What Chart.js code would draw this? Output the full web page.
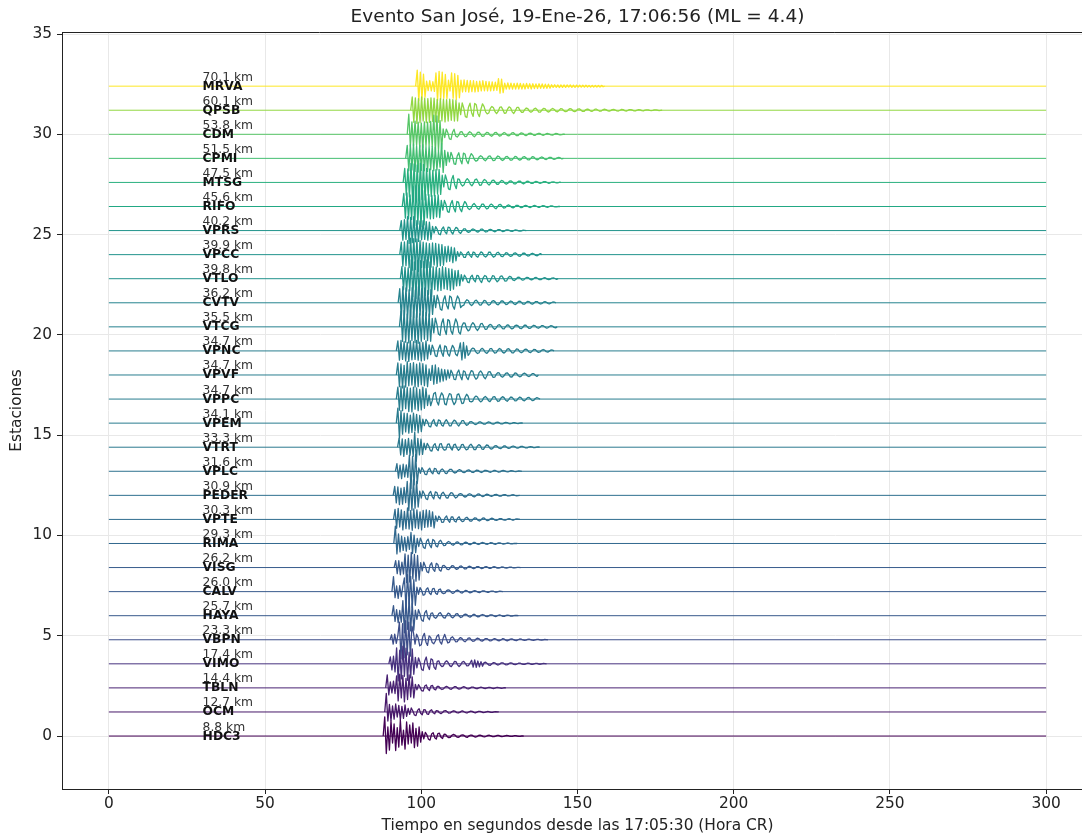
<!DOCTYPE html>
<html>
<head>
<meta charset="utf-8">
<title>Evento San José</title>
<script src="https://cdn.jsdelivr.net/npm/chart.js@4.4.1/dist/chart.umd.min.js"></script>
<style>
  html, body { margin: 0; padding: 0; background: #fff; overflow: hidden; }
  #wrap { width: 1110px; height: 835px; }
</style>
</head>
<body>
<div id="wrap"><canvas id="seis" width="1110" height="835"></canvas></div>
<script>
// ---- chart text ----
const titleText = 'Evento San José, 19-Ene-26, 17:06:56 (ML = 4.4)';
const xLabel = 'Tiempo en segundos desde las 17:05:30 (Hora CR)';
const yLabel = 'Estaciones';
const xTicks = [0, 50, 100, 150, 200, 250, 300];
const yTicks = [0, 5, 10, 15, 20, 25, 30, 35];

// ---- stations, bottom to top ----
const stations = ['HDC3', 'OCM', 'TBLN', 'VIMO', 'VBPN', 'HAYA', 'CALV', 'VISG', 'RIMA', 'VPTE',
  'PEDER', 'VPLC', 'VTRT', 'VPEM', 'VPPC', 'VPVF', 'VPNC', 'VTCG', 'CVTV', 'VTLO',
  'VPCC', 'VPRS', 'RIFO', 'MTSG', 'CPMI', 'CDM', 'QPSB', 'MRVA'];
const distances = [8.8, 12.7, 14.4, 17.4, 23.3, 25.7, 26.0, 26.2, 29.3, 30.3,
  30.9, 31.6, 33.3, 34.1, 34.7, 34.7, 34.7, 35.5, 36.2, 39.8,
  39.9, 40.2, 45.6, 47.5, 51.5, 53.8, 60.1, 70.1];
const offsets = [0, 1.2, 2.4, 3.6, 4.8, 6.0, 7.2, 8.4, 9.6, 10.8,
  12.0, 13.2, 14.4, 15.6, 16.8, 18.0, 19.2, 20.4, 21.6, 22.8,
  24.0, 25.2, 26.4, 27.6, 28.8, 30.0, 31.2, 32.4];
// first arrival (s)
const arrivals = [87.8, 88.3, 88.6, 89.6, 90.0, 90.6, 90.6, 91.3, 91.2, 91.1,
  91.0, 91.7, 92.4, 92.0, 92.0, 92.0, 92.0, 93.0, 92.6, 93.3,
  93.1, 93.1, 93.9, 94.2, 95.0, 95.5, 96.6, 98.2];

const sampleStep = 0.5;   // s between samples after the arrival
const ampUnit = 0.01;     // samples are in hundredths of a y unit
const traceStart = 0;
const traceEnd = 300;
const labelTime = 30;

// ---- waveform samples (read from the record section) ----
const waveHDC3 = [96,-87,45,-70,75,-35,60,-72,42,-55,80,-45,30,-65,70,-40,55,-35,65,-58,38,-50,45,-30,
  22,-14,18,6,-16,-20,10,17,-8,-15,12,14,-6,-12,9,
  8,-3,-8,-6,4,8,5,-4,-7,-3,5,6,2,-5,-6,1,5,4,-2,-5,-3,3,5,2,-3,-4,-1,3,4,1,-3,-3,0,3,3,-1,-3,-2,1,3,2,-1,-2,-1,2,2,0,-2,-1,1];
const waveOCM = [93,-45,38,-42,30,-36,40,-25,33,-38,28,-32,35,-22,
  18,-12,20,5,-15,-18,8,16,-6,-14,12,10,-9,-12,6,11,-4,-9,
  7,6,-4,-8,-3,6,7,1,-6,-5,2,6,4,-3,-5,-2,4,5,0,-4,-4,1,4,3,-2,-4,-1,3,3,0,-3,-2,1,3,1,-2,-2,0,2,1];
const waveTBLN = [65,-35,30,-25,34,-28,60,-65,68,-50,62,-70,48,-58,65,-45,55,-50,
  18,-10,16,4,-14,-16,9,15,-5,-13,10,12,-6,-10,
  8,7,-3,-8,-5,4,8,3,-5,-7,-1,6,6,-2,-6,-4,3,6,3,-3,-5,-1,4,4,0,-4,-3,2,4,2,-2,-3,0,3,2,-1,-3,-1,2,2,0,-2,-1,1];
const waveVIMO = [35,-30,38,-40,80,-85,68,-75,88,-62,78,-82,58,-70,75,-52,
  32,-20,30,8,-28,-33,14,34,-10,-28,25,20,-18,-27,
  12,15,-6,-14,-10,8,15,7,-9,-14,-3,12,11,-5,-13,-6,9,12,2,-10,-9,4,
  18,-16,20,-17,14,-15,11,-12,
  6,8,2,-6,-7,0,6,5,-3,-6,-2,5,5,-1,-5,-4,2,5,3,-3,-4,-1,3,4,0,-3,-3,1,3,2,-2,-3,0,2,2,-1,-2,0,2,1];
const waveVBPN = [25,-22,28,-18,22,88,-95,80,-90,95,-75,88,-82,68,
  35,-22,28,10,-30,-25,16,32,-12,-28,
  19,12,-14,-20,-6,18,25,-10,-22,8,27,4,-16,-12,10,15,
  4,-10,-9,3,11,7,-5,-10,-3,8,9,-1,-8,-6,3,8,5,-4,-7,-2,6,6,0,-6,-4,3,6,2,-4,-5,
  -1,5,4,-2,-5,-2,3,4,1,-3,-4,0,4,3,-1,-3,-2,2,3,1,-2,-3,0,2,2,-1,-2,0,2,1];
const waveHAYA = [50,-28,30,-35,26,-32,75,-85,80,-68,85,-76,62,-72,
  28,-18,30,8,-22,-28,14,26,-10,-20,
  12,14,-8,-13,-4,11,15,3,-10,-12,2,13,9,-6,-11,-3,9,10,-2,-9,
  -6,4,8,5,-4,-7,-2,6,6,-1,-6,-4,3,6,3,-3,-5,-1,4,4,0,-4,-3,2,4,1,-3,-3,1,3,2,-2,-2,0,2,1];
const waveCALV = [75,-30,28,-34,30,-25,29,68,-82,85,-62,76,-80,60,-68,
  22,-13,20,6,-18,-15,12,19,-7,-15,14,16,-8,-14,10,13,-5,
  -10,-7,5,9,6,-4,-9,-4,5,8,3,-5,-7,-1,6,5,-2,-6,-4,3,5,2,-3,-5,-1,4,4,0,-3,-3,1,3,2,-2,-2,0,2,1];
const waveVISG = [35,-30,34,-36,27,-32,68,-75,62,-72,76,-56,65,-68,60,-62,
  25,-16,27,7,-21,-26,12,24,-9,-19,21,15,-12,-18,
  8,11,3,-9,-10,-1,9,8,-3,-9,-5,6,8,2,-6,-7,1,7,5,-3,-6,-2,5,5,-1,-5,-3,3,5,1,
  -4,-4,2,4,2,-3,-3,0,3,2,-2,-3,0,2,2,-1,-2,0,1,1];
const waveRIMA = [87,-52,48,-42,36,-34,30,-38,34,-29,55,-50,42,-46,
  25,-15,27,8,-20,-25,12,22,-8,-21,20,14,-12,-17,10,16,
  2,-11,-9,4,10,6,-5,-9,-3,7,8,0,-7,-6,3,7,4,-4,-6,-1,5,5,-1,-5,-3,3,5,2,
  -3,-4,0,4,3,-2,-4,-1,3,3,0,-3,-2,1,3,1,-2,-2,0,1];
const waveVPTE = [50,-44,55,-38,48,-52,40,-46,58,-48,44,-54,52,-42,48,-46,38,-52,45,-40,48,-38,44,-35,38,-42,
  18,-10,16,6,-15,-14,9,17,-5,-14,13,12,-8,-13,6,13,-3,-11,-8,7,11,2,
  -8,-9,1,8,6,-4,-8,-3,6,7,0,-6,-5,3,6,3,-4,-5,-1,4,4,-1,-4,-3,2,4,1,-3,-3,1,2,1];
const wavePEDER = [45,-38,42,-46,36,-44,40,-36,70,-76,62,-74,78,-64,70,-58,
  21,-14,22,7,-17,-21,10,20,-6,-18,17,14,-10,-17,8,16,4,-12,-14,3,13,11,-4,-13,
  -8,5,9,6,-4,-9,-5,5,8,4,-5,-8,-2,6,7,0,-6,-5,2,6,4,-3,-5,-2,4,5,1,-4,-4,1,4,3,-2,-3,-1,2,3,0,-2,-1];
const waveVPLC = [38,-34,30,-37,35,-28,32,-30,80,-86,74,-68,84,-62,
  17,-10,18,5,-15,-17,7,15,-5,-13,14,12,-8,-13,5,12,4,-10,-11,3,10,9,
  -3,-9,-6,4,8,5,-4,-7,-3,5,7,2,-5,-6,0,6,5,-2,-6,-3,4,5,2,-3,-5,-1,4,4,0,-4,-3,2,4,2,-2,-3,0,3,2,-1,-2,0,2,1];
const waveVTRT = [45,-38,42,-46,38,-36,44,-40,36,-45,75,-70,44,-38,40,-36,
  20,-12,19,6,-17,-19,9,18,-8,-17,15,18,-6,-15,-12,14,17,-4,-14,12,15,-5,-16,-8,13,14,-3,-13,-10,9,15,4,-12,-12,5,13,8,-9,-11,2,11,9,-4,-10,
  -6,5,8,3,-5,-7,-1,6,6,-1,-6,-4,3,6,3,-3,-5,-1,4,4,0,-3,-3,1,3,2,-2,-2,0,1];
const waveVPEM = [75,-75,62,-55,50,-44,48,-50,40,-46,50,-38,44,-48,38,-42,
  20,-12,19,8,-16,-19,7,18,-8,-15,16,13,-9,-15,6,17,5,-13,-14,4,15,10,-6,-14,-3,12,13,-2,
  -11,-7,6,8,3,-5,-7,-2,6,6,0,-5,-5,2,6,4,-3,-5,-2,4,5,1,-4,-4,1,4,3,-2,-3,-1,3,2,-1,-2,0,1];
const waveVPPC = [60,-55,64,-58,66,-48,58,-62,54,-64,60,-50,56,-58,48,-54,60,-46,52,
  -32,20,-33,-8,28,33,-12,-30,10,31,18,-24,-29,6,27,24,-10,-28,-15,22,26,3,-23,-20,8,24,14,-12,
  -14,-10,8,15,10,-6,-14,-8,7,13,6,-8,-13,-2,11,12,-1,-12,-9,5,12,7,-6,-11,-3,9,10,1,-9,-8,3,10,6,-5,-9,-2,7,8,0,-8,-6,3,7,4];
const waveVPVF = [60,-58,55,-64,48,-60,66,-54,58,-50,62,-60,54,-58,60,-48,56,-53,50,-58,
  30,-27,48,-46,50,-42,36,-34,29,-30,27,-24,
  25,-15,24,8,-22,-23,11,25,-6,-24,21,16,-12,-23,4,22,18,-8,-21,-14,12,20,9,-10,-19,-4,16,17,
  2,-12,-11,4,12,9,-6,-11,-4,8,11,3,-9,-10,0,10,8,-4,-9,-6,5,9,5,-5,-8,-2,7,7,-1,-7];
const waveVPNC = [50,-46,52,-42,46,-50,42,-52,50,-44,46,-42,52,-46,44,-50,42,-46,50,-40,
  30,-18,29,9,-25,-28,10,30,-8,-27,25,20,-15,-26,6,28,14,-17,-24,3,40,-45,42,-36,25,-22,
  -12,8,14,10,-6,-13,-9,7,13,6,-8,-12,-3,11,12,-1,-11,-9,4,12,8,-6,-11,-4,9,11,2,-9,-10,0,10,8,-4,-9,-5,6,9,4,-6,-8,-1,8,7,-2,-7,-5,3,7,4,-4,-6,-1,5,4];
const waveVTCG = [78,-72,82,-76,65,-80,85,-68,76,-78,72,-82,66,-72,78,-62,72,-68,65,-72,
  42,-30,44,12,-36,-42,18,40,-14,-38,36,30,-20,-37,8,40,22,-26,-36,4,
  20,18,-8,-20,-14,10,21,12,-9,-18,-6,15,17,2,
  -13,-11,5,12,9,-6,-12,-5,8,11,3,-9,-10,1,10,8,-4,-10,-6,6,9,5,-6,-9,-2,8,8,-1,-8,-6,3,8,5,-4,-7,-2,6,6,0,-6,-5,2,6,4,-3,-5];
const waveCVTV = [70,-76,80,-64,74,-78,66,-70,76,-74,64,-72,80,-62,70,-66,74,-64,62,-70,66,-58,
  36,-24,38,10,-32,-37,15,35,-12,-31,34,28,-16,-32,8,34,20,-24,
  -15,-12,6,15,10,-7,-14,-6,9,13,4,-10,-12,0,12,10,-5,-12,-7,7,11,6,-7,-10,-2,9,9,0,-9,-7,3,9,6,-5,-9,-3,7,8,1,-7,-7,2,7,5,-4,-7,-1,6,6,-1,-6,-4,3,6,2,-4,-5,0,4,3];
const waveVTLO = [60,-55,58,-62,54,-60,95,-90,84,-98,92,-82,90,-95,86,-84,94,-78,84,-90,
  60,-54,58,-60,52,-58,60,-50,55,-54,50,-58,48,-52,40,-36,42,-34,
  20,-12,18,6,-17,-20,9,17,-6,-16,17,14,-8,-19,4,16,12,-10,-16,-3,15,13,-5,-15,-8,12,14,2,-12,-11,5,12,
  8,-6,-9,-3,7,8,1,-7,-6,2,7,5,-3,-6,-2,5,6,1,-5,-5,1,5,4,-2,-5,-2,3,4,1,-3];
const waveVPCC = [62,-58,64,-55,70,-65,82,-78,80,-74,78,-84,70,-64,62,-66,58,-64,55,-62,58,-52,56,-60,52,-55,50,-52,
  40,-36,42,-33,37,-40,34,-31,
  15,-9,14,5,-13,-14,7,15,-5,-13,13,10,-8,-13,2,14,9,-7,-12,-4,13,12,-3,-12,-8,8,12,4,-9,-10,0,10,8,-4,-9,-5,6,9,3,-6,-8,-1,8,7,-2,-7,-5,4,7,3,-4,-6,0,5];
const waveVPRS = [50,-48,54,-44,70,-64,66,-60,70,-56,50,-54,48,-45,50,-44,45,-48,42,-44,
  21,-12,20,6,-17,-21,8,18,-6,-16,17,15,-7,-17,3,16,11,-8,-14,-2,
  9,8,-4,-9,-5,5,8,4,-4,-8,-2,7,7,-1,-7,-5,3,6,3,-3,-6,-1,5,5,-1,-5,-3,3,4,2,-3,-4,0,3,2,-1,-3,-1,2,1];
const waveRIFO = [65,-58,68,-62,58,-65,100,-95,105,-88,96,-102,82,-92,
  62,-57,60,-62,55,-60,56,-52,58,-55,
  31,-18,30,10,-26,-29,13,30,-9,-27,25,22,-12,-26,5,25,
  15,-8,-15,-10,8,15,6,-9,-14,-3,12,12,-2,-12,-9,6,12,6,-6,-11,-2,9,10,0,
  -8,-6,4,8,4,-4,-7,-2,6,6,0,-6,-4,3,6,3,-3,-5,-1,4,5,1,-4,-4,1,4,3,-2,-4,-1,3,3,0,-2,-2,1];
const waveMTSG = [70,-64,68,-72,95,-90,92,-96,88,-92,96,-85,90,-88,
  70,-64,68,-70,60,-68,64,-58,65,-60,
  36,-22,38,10,-32,-36,14,35,-12,-31,
  18,15,-8,-18,-12,9,19,10,-9,-17,-5,14,17,2,-14,-13,5,15,10,-6,
  -13,-4,10,11,1,-9,-9,3,10,7,-4,-9,-4,6,8,2,-7,-7,1,7,6,-3,-7,-3,5,6,1,-5,-5,2,5,3,-3,-4,-1,4,4,0,-4,-3,2,3,1,-2,-2,1];
const waveCPMI = [65,-62,68,-58,72,-65,62,-68,65,-60,68,-62,58,-65,62,-57,60,-62,55,-58,
  38,-44,75,-70,40,-35,
  31,-18,30,9,-27,-30,12,28,-8,-27,26,22,-12,-26,6,24,
  14,-6,-14,-10,7,13,8,-6,-12,-4,10,12,1,-11,-10,3,12,8,-5,-11,-5,8,10,2,-9,-9,0,10,7,-4,-9,-5,6,9,3,-6,-8,-1,8,7,-2,-7,-5,3,7,4,-4,-6,-1,5,5,-1,-5,-3,3,5,2,-3];
const waveCDM = [100,-60,62,-58,66,-55,60,-64,56,-66,62,-58,60,-55,64,-60,95,-88,92,-82,68,-72,
  27,-16,26,8,-23,-26,10,25,
  -8,-14,-4,12,13,-1,-12,-10,5,13,8,-6,-12,-4,10,11,1,-10,-9,3,10,7,-5,-10,-3,8,9,0,-9,-7,3,9,5,-5,-8,-2,7,8,0,-7,-6,2,7,5,-3,-7,-2,5,6,1,
  -5,-5,1,5,4,-2,-5,-2,3,4,1,-3,-4,0,4,3,-1,-3,-2,1];
const waveQPSB = [66,-60,62,-66,58,-62,66,-54,60,-62,58,-60,62,-55,60,-58,54,-60,58,-53,55,-58,53,-54,55,-50,53,-54,50,-53,
  36,-22,37,10,-32,-36,15,35,-12,-31,34,27,-16,-32,6,32,
  18,-8,-18,-14,9,19,12,-7,-17,-6,14,17,3,-15,-14,5,17,11,-8,-16,-3,14,14,-1,
  -10,-10,3,11,8,-5,-10,-5,7,10,2,-9,-9,1,9,8,-3,-9,-6,5,9,4,-6,-8,-1,8,7,-2,-7,-6,3,8,5,-4,-7,-3,6,7,1,-6,-6,2,6,4,-3,-6,-1,5,5,0,
  -5,-4,2,5,3,-2,-5,-2,3,4,1,-3,-4,0,4,3,-2,-4,-1,3,3,0,-3,-3,1,3,2,-2,-3,0,2,2,-1,-2,-1,2,2,0,-2,-1];
const waveMRVA = [80,-72,70,-66,60,-55,25,-22,27,-24,22,-26,66,-72,74,-66,70,-60,58,-62,30,-24,66,-60,62,-66,54,-58,
  30,-29,31,-27,29,-30,28,-27,27,-29,24,-27,25,-24,27,-23,24,-24,22,-23,21,-22,20,-21,38,-35,35,-32,
  15,-15,16,-14,15,-15,14,-15,15,-14,14,-15,12,-14,14,-12,12,-14,12,-12,11,-12,12,-11,11,-11,10,-11,10,-10,
  7,-6,7,-6,6,-7,6,-6,6,-6,6,-5,6,-6,5,-6,5,-5,5,-5,5,-5,5,-4,4,-5,4,-4,4,-4,4,-4,4,-3];

const waves = [waveHDC3, waveOCM, waveTBLN, waveVIMO, waveVBPN, waveHAYA, waveCALV, waveVISG, waveRIMA, waveVPTE,
  wavePEDER, waveVPLC, waveVTRT, waveVPEM, waveVPPC, waveVPVF, waveVPNC, waveVTCG, waveCVTV, waveVTLO,
  waveVPCC, waveVPRS, waveRIFO, waveMTSG, waveCPMI, waveCDM, waveQPSB, waveMRVA];

// viridis, sampled every 0.05
const viridis = ['#440154', '#471365', '#482475', '#463480', '#414487', '#3b528b', '#355f8d', '#2f6c8e',
  '#2a788e', '#25848e', '#21918c', '#1e9c89', '#22a884', '#2fb47c', '#44bf70', '#5ec962',
  '#7ad151', '#9bd93c', '#bddf26', '#dfe318', '#fde725'];

function hexToRgb(h) {
    return [parseInt(h.slice(1, 3), 16), parseInt(h.slice(3, 5), 16), parseInt(h.slice(5, 7), 16)];
}

// colour by distance, like a colormap normalised to min..max distance
function colorFor(d) {
    const lo = Math.min(...distances), hi = Math.max(...distances);
    const f = Math.max(0, Math.min(1, (d - lo) / (hi - lo))) * (viridis.length - 1);
    const i = Math.min(Math.floor(f), viridis.length - 2);
    const a = hexToRgb(viridis[i]), b = hexToRgb(viridis[i + 1]);
    const t = f - i;
    const c = a.map((v, k) => Math.round(v + (b[k] - v) * t));
    return `rgb(${c[0]},${c[1]},${c[2]})`;
}

// signal part of a trace: starts and ends on its baseline
function buildWave(i) {
    const off = offsets[i], t0 = arrivals[i], w = waves[i];
    const pts = [{ x: t0, y: off }];
    w.forEach((v, k) => pts.push({ x: t0 + (k + 1) * sampleStep, y: off + v * ampUnit }));
    pts.push({ x: t0 + (w.length + 1) * sampleStep, y: off });
    return pts;
}

const baseSets = stations.map((name, i) => ({
    label: name + ' base',
    data: [{ x: traceStart, y: offsets[i] }, { x: traceEnd, y: offsets[i] }],
    borderColor: colorFor(distances[i]),
    borderWidth: 1,
    pointRadius: 0
}));

const waveSets = stations.map((name, i) => ({
    label: name,
    data: buildWave(i),
    borderColor: colorFor(distances[i]),
    borderWidth: 1.3,
    borderJoinStyle: 'round',
    pointRadius: 0,
    tension: 0
}));

// title, station labels, top/right spines
const overlay = {
    id: 'overlay',
    afterDatasetsDraw(chart) {
        const { ctx, chartArea, scales } = chart;
        const x = scales.x, y = scales.y;
        ctx.save();
        ctx.strokeStyle = '#222';
        ctx.lineWidth = 1;
        ctx.beginPath();
        ctx.moveTo(chartArea.left, chartArea.top + 0.5);
        ctx.lineTo(chartArea.right - 0.5, chartArea.top + 0.5);
        ctx.lineTo(chartArea.right - 0.5, chartArea.bottom);
        ctx.stroke();

        const lx = x.getPixelForValue(labelTime);
        ctx.textAlign = 'left';
        ctx.textBaseline = 'alphabetic';
        stations.forEach((name, i) => {
            const py = y.getPixelForValue(offsets[i]);
            ctx.font = "12.3px 'DejaVu Sans'";
            ctx.fillStyle = '#333';
            ctx.fillText(distances[i].toFixed(1) + ' km', lx, py - 5.5);
            ctx.font = "bold 12.3px 'DejaVu Sans'";
            ctx.fillStyle = '#111';
            ctx.fillText(name, lx, py + 3.5);
        });

        ctx.font = "18.5px 'DejaVu Sans'";
        ctx.fillStyle = '#222';
        ctx.textAlign = 'center';
        ctx.textBaseline = 'middle';
        ctx.fillText(titleText, (chartArea.left + chartArea.right) / 2, 17);
        ctx.restore();
    }
};

Chart.defaults.font.family = "'DejaVu Sans', sans-serif";
Chart.defaults.color = '#222';

const gridColor = '#e8e8e8';

new Chart(document.getElementById('seis'), {
    type: 'line',
    data: { datasets: [...baseSets, ...waveSets] },
    options: {
        responsive: false,
        animation: false,
        parsing: false,
        layout: { padding: { top: 32, right: 17, left: 0, bottom: 0 } },
        plugins: {
            legend: { display: false },
            tooltip: { enabled: false }
        },
        scales: {
            x: {
                type: 'linear',
                min: -15,
                max: 315,
                afterBuildTicks: (s) => { s.ticks = xTicks.map(v => ({ value: v })); },
                afterFit: (s) => { s.height = 46; },
                ticks: { font: { size: 15.4 }, color: '#222', padding: 1, maxRotation: 0 },
                grid: { color: gridColor, tickColor: '#222', tickLength: 5 },
                border: { color: '#222', width: 1 },
                title: { display: true, text: xLabel, font: { size: 15.4 }, color: '#222', padding: { top: 0, bottom: 0 } }
            },
            y: {
                type: 'linear',
                min: -2.64,
                max: 35.1,
                afterBuildTicks: (s) => { s.ticks = yTicks.map(v => ({ value: v })); },
                afterFit: (s) => { s.width = 62; },
                ticks: { font: { size: 15.4 }, color: '#222', padding: 5 },
                grid: { color: gridColor, tickColor: '#222', tickLength: 5 },
                border: { color: '#222', width: 1 },
                title: { display: true, text: yLabel, font: { size: 15.4 }, color: '#222', padding: { top: 8, bottom: 0 } }
            }
        }
    },
    plugins: [overlay]
});
</script>
</body>
</html>
